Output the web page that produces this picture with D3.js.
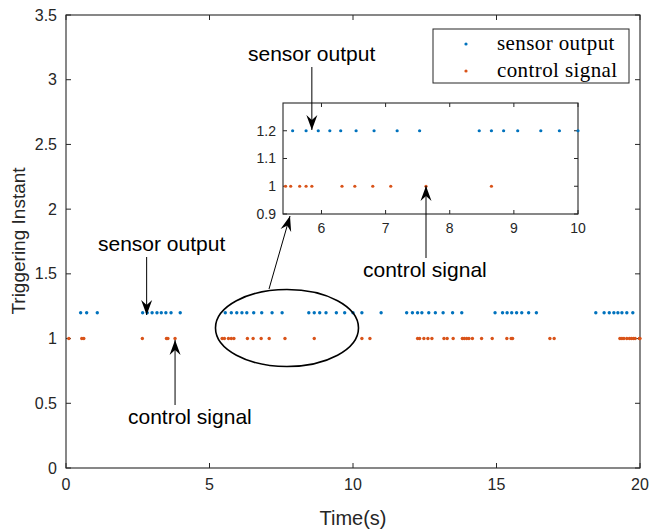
<!DOCTYPE html>
<html>
<head>
<meta charset="utf-8">
<script src="https://cdn.jsdelivr.net/npm/d3@7"></script>
<style>
  body { margin: 0; background: #fff; }
  svg { font-family: "Liberation Sans", Arial, sans-serif; }
</style>
</head>
<body>
<svg id="chart" width="652" height="532"></svg>
<script>
// triggering instants (seconds)
const sensorT = [0.51, 0.72, 1.09, 2.67, 2.83, 3.0, 3.17, 3.32, 3.48, 3.66, 3.98,
  5.55, 5.76, 5.95, 6.13, 6.3, 6.54, 6.82, 7.18, 7.53, 8.46, 8.65, 8.84, 9.06, 9.42, 9.71, 10.0,
  10.31, 10.98, 11.87, 12.07, 12.25, 12.4, 12.64, 12.87, 13.14, 13.47, 13.79, 14.95,
  15.21, 15.37, 15.53, 15.7, 15.88, 16.12, 16.39, 18.46, 18.75, 18.93, 19.09, 19.23, 19.37, 19.54, 19.75];
const controlT = [0.1, 0.55, 0.62, 2.66, 3.5, 3.55, 3.8,
  5.44, 5.52, 5.66, 5.76, 5.85, 6.32, 6.52, 6.8, 7.08, 7.63, 8.65,
  10.31, 10.59, 12.25, 12.32, 12.47, 12.61, 12.75, 13.17, 13.28, 13.49, 13.81, 13.88, 13.96, 14.04, 14.16,
  14.48, 14.85, 15.36, 15.51, 15.56, 16.86, 17.01, 19.3, 19.37, 19.44, 19.54, 19.63, 19.7, 19.77, 19.83, 19.98, 20.0];
const sensorLevel = 1.2;
const controlLevel = 1;

const seriesNames = ["sensor output", "control signal"];
const colors = ["#0072BD", "#D95319"];

const xTicks = [0, 5, 10, 15, 20];
const yTicks = [0, 0.5, 1, 1.5, 2, 2.5, 3, 3.5];
const insetXTicks = [6, 7, 8, 9, 10];
const insetYTicks = [0.9, 1, 1.1, 1.2];

const svg = d3.select("#chart");
const axisColor = "#262626";

// arrow head (matlab style)
svg.append("defs").append("marker")
  .attr("id", "head")
  .attr("viewBox", "-16 -6 17 12")
  .attr("refX", 0).attr("refY", 0)
  .attr("markerWidth", 17).attr("markerHeight", 12)
  .attr("markerUnits", "userSpaceOnUse")
  .attr("orient", "auto")
  .append("path")
  .attr("d", "M0,0 L-15,-5.5 L-10,0 L-15,5.5 Z")
  .attr("fill", "#000");

function drawAxes(g, x, y, xt, yt, fs, tickLen, gapX, gapY) {
  const [x0, x1] = x.range();
  const [y0, y1] = y.range();
  g.append("rect")
    .attr("x", x0).attr("y", y1).attr("width", x1 - x0).attr("height", y0 - y1)
    .attr("fill", "#fff").attr("stroke", axisColor).attr("stroke-width", 1.1);
  // ticks inward on all four sides
  xt.forEach(t => {
    g.append("line").attr("x1", x(t)).attr("x2", x(t)).attr("y1", y0).attr("y2", y0 - tickLen)
      .attr("stroke", axisColor);
    g.append("line").attr("x1", x(t)).attr("x2", x(t)).attr("y1", y1).attr("y2", y1 + tickLen)
      .attr("stroke", axisColor);
    g.append("text").attr("x", x(t)).attr("y", y0 + gapX).attr("dy", "0.71em")
      .attr("text-anchor", "middle").attr("font-size", fs).attr("fill", axisColor)
      .text(t);
  });
  yt.forEach(t => {
    g.append("line").attr("x1", x0).attr("x2", x0 + tickLen).attr("y1", y(t)).attr("y2", y(t))
      .attr("stroke", axisColor);
    g.append("line").attr("x1", x1).attr("x2", x1 - tickLen).attr("y1", y(t)).attr("y2", y(t))
      .attr("stroke", axisColor);
    g.append("text").attr("x", x0 - gapY).attr("y", y(t)).attr("dy", "0.35em")
      .attr("text-anchor", "end").attr("font-size", fs).attr("fill", axisColor)
      .text(t);
  });
}

function drawDots(g, x, y, r, clip) {
  [[sensorT, sensorLevel], [controlT, controlLevel]].forEach(([ts, lvl], i) => {
    g.append("g").attr("clip-path", clip)
      .selectAll("circle").data(ts).join("circle")
      .attr("cx", t => x(t)).attr("cy", y(lvl)).attr("r", r)
      .attr("fill", colors[i]);
  });
}

function arrow(x1, y1, x2, y2) {
  svg.append("line")
    .attr("x1", x1).attr("y1", y1).attr("x2", x2).attr("y2", y2)
    .attr("stroke", "#000").attr("stroke-width", 1)
    .attr("marker-end", "url(#head)");
}

function label(txt, x, y) {
  svg.append("text").attr("x", x).attr("y", y)
    .attr("font-size", 21).attr("fill", "#000").text(txt);
}

// main axes
const x = d3.scaleLinear().domain([0, 20]).range([66, 640]);
const y = d3.scaleLinear().domain([0, 3.5]).range([468, 15]);
const main = svg.append("g");
drawAxes(main, x, y, xTicks, yTicks, 16, 5, 11, 9);
svg.append("defs").append("clipPath").attr("id", "mainClip")
  .append("rect").attr("x", 64).attr("y", 13).attr("width", 578).attr("height", 457);
drawDots(main, x, y, 1.7, "url(#mainClip)");

main.append("text").attr("x", (66 + 640) / 2).attr("y", 525)
  .attr("text-anchor", "middle").attr("font-size", 20).attr("fill", axisColor).text("Time(s)");
main.append("text").attr("transform", "translate(25,241) rotate(-90)")
  .attr("text-anchor", "middle").attr("font-size", 19).attr("fill", axisColor).text("Triggering Instant");

// legend
const lg = svg.append("g");
lg.append("rect").attr("x", 433).attr("y", 29).attr("width", 196).attr("height", 54)
  .attr("fill", "#fff").attr("stroke", axisColor).attr("stroke-width", 1);
seriesNames.forEach((n, i) => {
  lg.append("circle").attr("cx", 466).attr("cy", 44 + i * 27).attr("r", 1.6).attr("fill", colors[i]);
  lg.append("text").attr("x", 497).attr("y", 50 + i * 27)
    .attr("font-family", "'Liberation Serif', 'DejaVu Serif', serif")
    .attr("font-size", 21).attr("letter-spacing", 0.4).attr("fill", "#000").text(n);
});

// ellipse around zoomed region
svg.append("ellipse").attr("cx", x(7.7)).attr("cy", 328).attr("rx", 71.5).attr("ry", 38.5)
  .attr("fill", "none").attr("stroke", "#000").attr("stroke-width", 1.6);

// inset axes
const xi = d3.scaleLinear().domain([5.4, 10]).range([283, 578]);
const yi = d3.scaleLinear().domain([0.9, 1.3]).range([214, 103]);
const inset = svg.append("g");
drawAxes(inset, xi, yi, insetXTicks, insetYTicks, 14, 4, 9, 7);
svg.append("defs").append("clipPath").attr("id", "insetClip")
  .append("rect").attr("x", 281).attr("y", 101).attr("width", 299).attr("height", 115);
drawDots(inset, xi, yi, 1.6, "url(#insetClip)");

// annotations
label("sensor output", 98, 251);
arrow(x(2.81), 257, x(2.81), 315);
label("control signal", 128, 424);
arrow(x(3.8), 405, x(3.8), 340);
label("sensor output", 248, 61);
arrow(xi(5.85), 67, xi(5.85), 130);
label("control signal", 363, 277);
arrow(xi(7.63), 258, xi(7.63), 186);
arrow(269, 289, 290, 216);
</script>
</body>
</html>
